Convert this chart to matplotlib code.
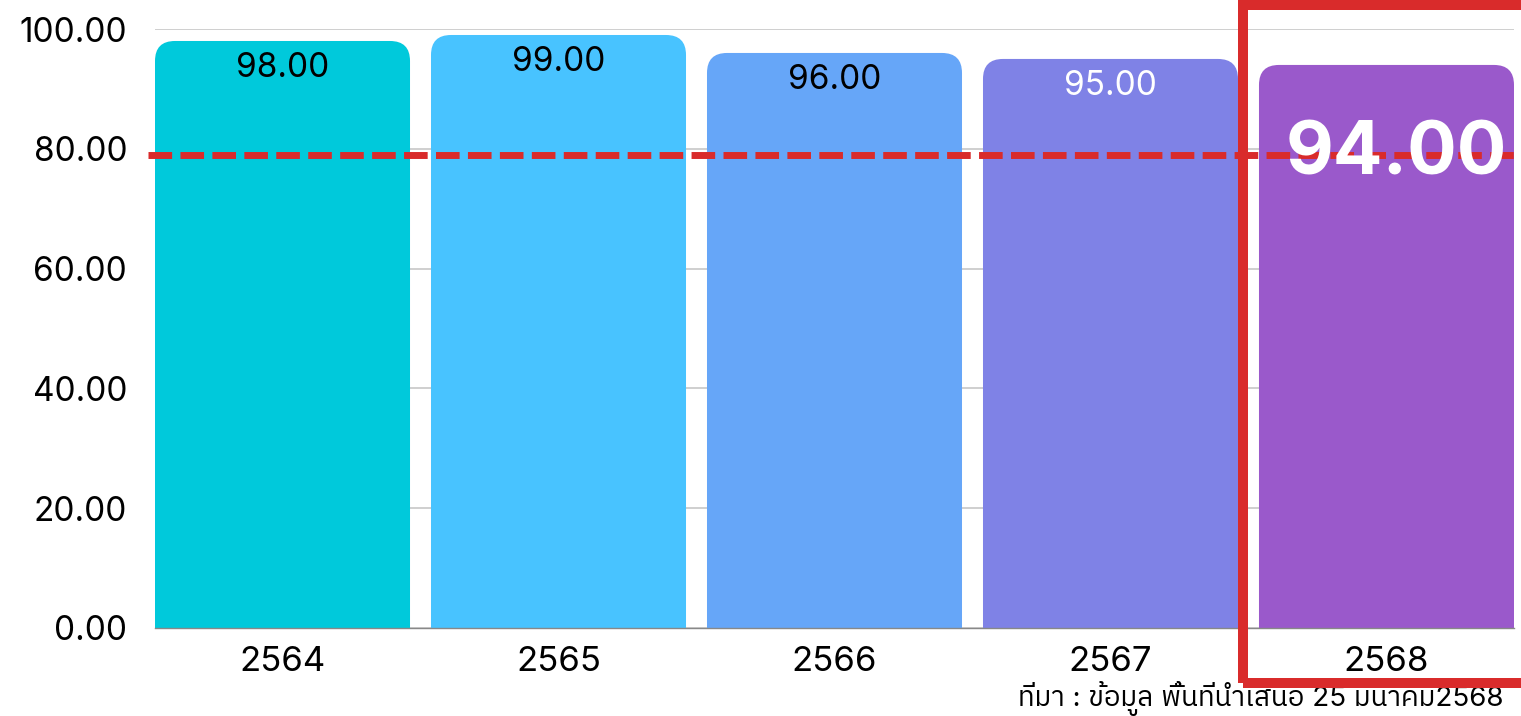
import matplotlib
matplotlib.use("Agg")
import matplotlib.pyplot as plt
from matplotlib import font_manager
from matplotlib.patches import FancyBboxPatch, Rectangle

years = ["2564", "2565", "2566", "2567", "2568"]
values = [98.0, 99.0, 96.0, 95.0, 94.0]
target = 79.0
bar_colors = ["#00C9DB", "#48C3FF", "#66A6F8", "#7F82E6", "#9A59CB"]
label_colors = ["black", "black", "black", "white", "white"]
yticks = [0, 20, 40, 60, 80, 100]
source_text = "ที่มา : ข้อมูล พื้นที่นำเสนอ 25 มีนาคม2568"

# pick a font that can draw Thai, if one is installed
thai_fonts = sorted({f.name for f in font_manager.fontManager.ttflist if "Thai" in f.name})
main_font = "Inter"
plt.rcParams["font.family"] = [main_font] + thai_fonts + ["DejaVu Sans"]
plt.rcParams["lines.scale_dashes"] = False

W, H = 1521, 716
fig = plt.figure(figsize=(W / 100, H / 100), dpi=100)
ax = fig.add_axes([155 / W, 1 - 628 / H, 1359 / W, 599 / H])

width = 0.924
ax.set_xlim(-width / 2, len(years) - 1 + width / 2)
ax.set_ylim(0, 100)

# rounded top corners: scale the rounding so it looks circular on screen
px_x = 1359 / (len(years) - 1 + width)
px_y = 599 / 100
radius_px = 20
for i, (v, c) in enumerate(zip(values, bar_colors)):
    box = FancyBboxPatch((i - width / 2, -10), width, v + 10,
                         boxstyle=f"round,pad=0,rounding_size={radius_px / px_x}",
                         mutation_aspect=px_x / px_y,
                         facecolor=c, edgecolor="none", zorder=2)
    ax.add_patch(box)
    box.set_clip_path(ax.patch)

for i, (v, lc) in enumerate(zip(values[:-1], label_colors[:-1])):
    ax.annotate(f"{v:.2f}", (i, v), xytext=(0, -19.5), textcoords="offset points",
                ha="center", va="center", fontsize=24, color=lc, zorder=5)

# last year gets the big label
last = len(values) - 1
ax.annotate(f"{values[last]:.2f}", (last, values[last]), xytext=(7, -64.5),
            textcoords="offset points", ha="center", va="center",
            fontsize=53, fontweight="bold", color=label_colors[last], zorder=6)

ax.axhline(target, xmin=-0.005, xmax=1.01, color="#D92B2B", lw=5,
           dashes=(17, 6), clip_on=False, zorder=4)

ax.set_yticks(yticks)
ax.set_yticklabels([f"{t:.2f}" for t in yticks])
ax.set_xticks(range(len(years)))
ax.set_xticklabels(years)
ax.tick_params(axis="y", length=0, pad=20, labelsize=24)
ax.tick_params(axis="x", length=0, pad=13, labelsize=25)
ax.grid(axis="y", color="#CCCCCC", lw=1.3, zorder=0)
ax.set_axisbelow(True)
for s in ["top", "right", "left"]:
    ax.spines[s].set_visible(False)
ax.spines["bottom"].set_color("#888888")
ax.spines["bottom"].set_linewidth(1)

# highlight frame around the latest year
fig.patches.append(Rectangle((1243 / W, 1 - 683 / H), 0.3, (683 - 5) / H,
                             transform=fig.transFigure, fill=False,
                             edgecolor="#D92B2B", lw=7.2, zorder=10))

fig.text(1503 / W, 1 - 706 / H, source_text, ha="right", va="baseline", fontsize=20)

fig.savefig("out.png", dpi=100)
